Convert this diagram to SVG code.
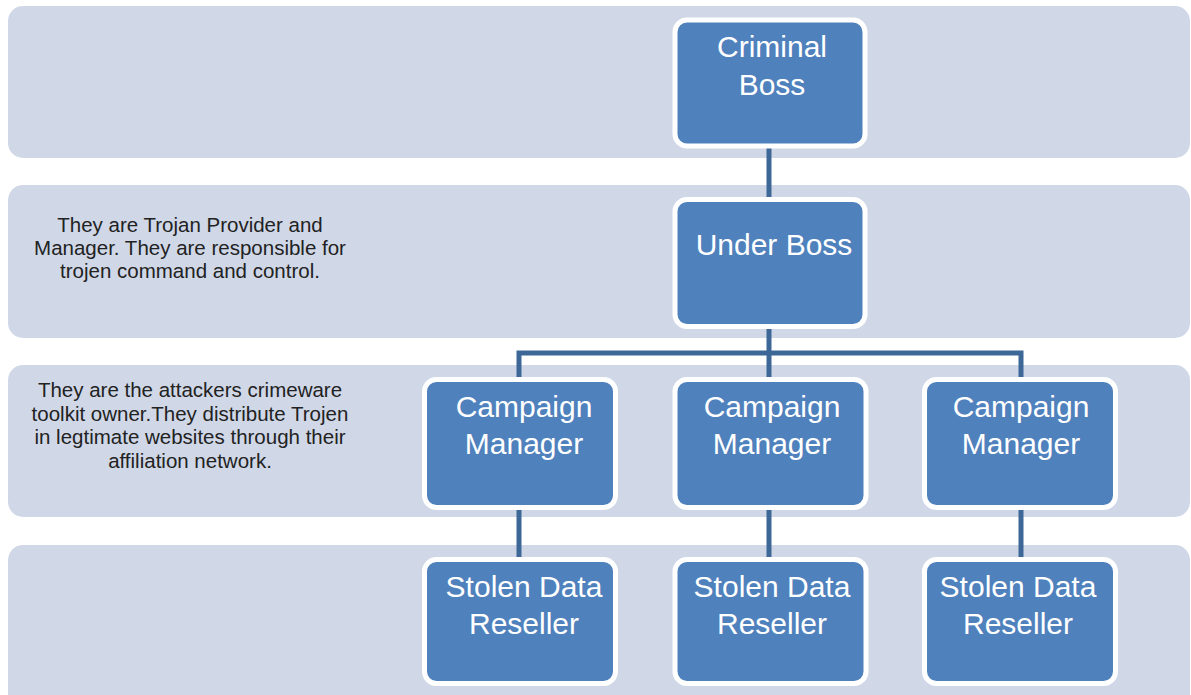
<svg xmlns="http://www.w3.org/2000/svg" width="1191" height="695" viewBox="0 0 1191 695">
<style>
.band{fill:#d0d8e8}
.node{fill:#4f81bd;stroke:#ffffff;stroke-width:5}
.lbl{font-family:"Liberation Sans",Arial,sans-serif;font-size:30px;fill:#ffffff;text-anchor:middle}
.desc{font-family:"Liberation Sans",Arial,sans-serif;font-size:20.5px;fill:#222222;text-anchor:middle}
.conn{stroke:#3c6797;stroke-width:5;fill:none}
</style>
<rect width="1191" height="695" fill="#ffffff"/>
<g id="bands">
<rect class="band" x="8" y="6" width="1182" height="152" rx="15"/>
<rect class="band" x="8" y="185" width="1182" height="153" rx="15"/>
<rect class="band" x="8" y="365" width="1182" height="152" rx="15"/>
<rect class="band" x="8" y="545" width="1182" height="165" rx="15"/>
</g>
<g id="descriptions">
<text class="desc"><tspan x="190" y="232">They are Trojan Provider and</tspan><tspan x="190" y="255">Manager. They are responsible for</tspan><tspan x="190" y="278">trojen command and control.</tspan></text>
<text class="desc"><tspan x="190" y="397">They are the attackers crimeware</tspan><tspan x="190" y="420.5">toolkit owner.They distribute Trojen</tspan><tspan x="190" y="444">in legtimate websites through their</tspan><tspan x="190" y="467.5">affiliation network.</tspan></text>
</g>
<g id="connectors">
<line class="conn" x1="769" y1="148" x2="769" y2="198"/>
<line class="conn" x1="769" y1="328" x2="769" y2="378"/>
<polyline class="conn" points="519,378 519,353 1021,353 1021,378"/>
<line class="conn" x1="519" y1="509" x2="519" y2="558"/>
<line class="conn" x1="769" y1="509" x2="769" y2="558"/>
<line class="conn" x1="1021" y1="509" x2="1021" y2="558"/>
</g>
<g id="criminal-boss">
<rect class="node" x="675" y="20" width="190" height="126" rx="12"/>
<text class="lbl" x="772" y="57">Criminal</text>
<text class="lbl" x="772" y="95">Boss</text>
</g>
<g id="under-boss">
<rect class="node" x="675" y="199.5" width="190" height="127" rx="12"/>
<text class="lbl" x="774" y="255">Under Boss</text>
</g>
<g id="campaign-manager-1">
<rect class="node" x="424.5" y="379.5" width="191" height="128" rx="12"/>
<text class="lbl" x="524" y="417">Campaign</text>
<text class="lbl" x="524" y="454">Manager</text>
</g>
<g id="campaign-manager-2">
<rect class="node" x="675" y="379.5" width="191" height="128" rx="12"/>
<text class="lbl" x="772" y="417">Campaign</text>
<text class="lbl" x="772" y="454">Manager</text>
</g>
<g id="campaign-manager-3">
<rect class="node" x="924.5" y="379.5" width="191" height="128" rx="12"/>
<text class="lbl" x="1021" y="417">Campaign</text>
<text class="lbl" x="1021" y="454">Manager</text>
</g>
<g id="reseller-1">
<rect class="node" x="424.5" y="559.5" width="191" height="124" rx="12"/>
<text class="lbl" x="524" y="597">Stolen Data</text>
<text class="lbl" x="524" y="634">Reseller</text>
</g>
<g id="reseller-2">
<rect class="node" x="675" y="559.5" width="191" height="124" rx="12"/>
<text class="lbl" x="772" y="597">Stolen Data</text>
<text class="lbl" x="772" y="634">Reseller</text>
</g>
<g id="reseller-3">
<rect class="node" x="924.5" y="559.5" width="191" height="124" rx="12"/>
<text class="lbl" x="1018" y="597">Stolen Data</text>
<text class="lbl" x="1018" y="634">Reseller</text>
</g>
</svg>
